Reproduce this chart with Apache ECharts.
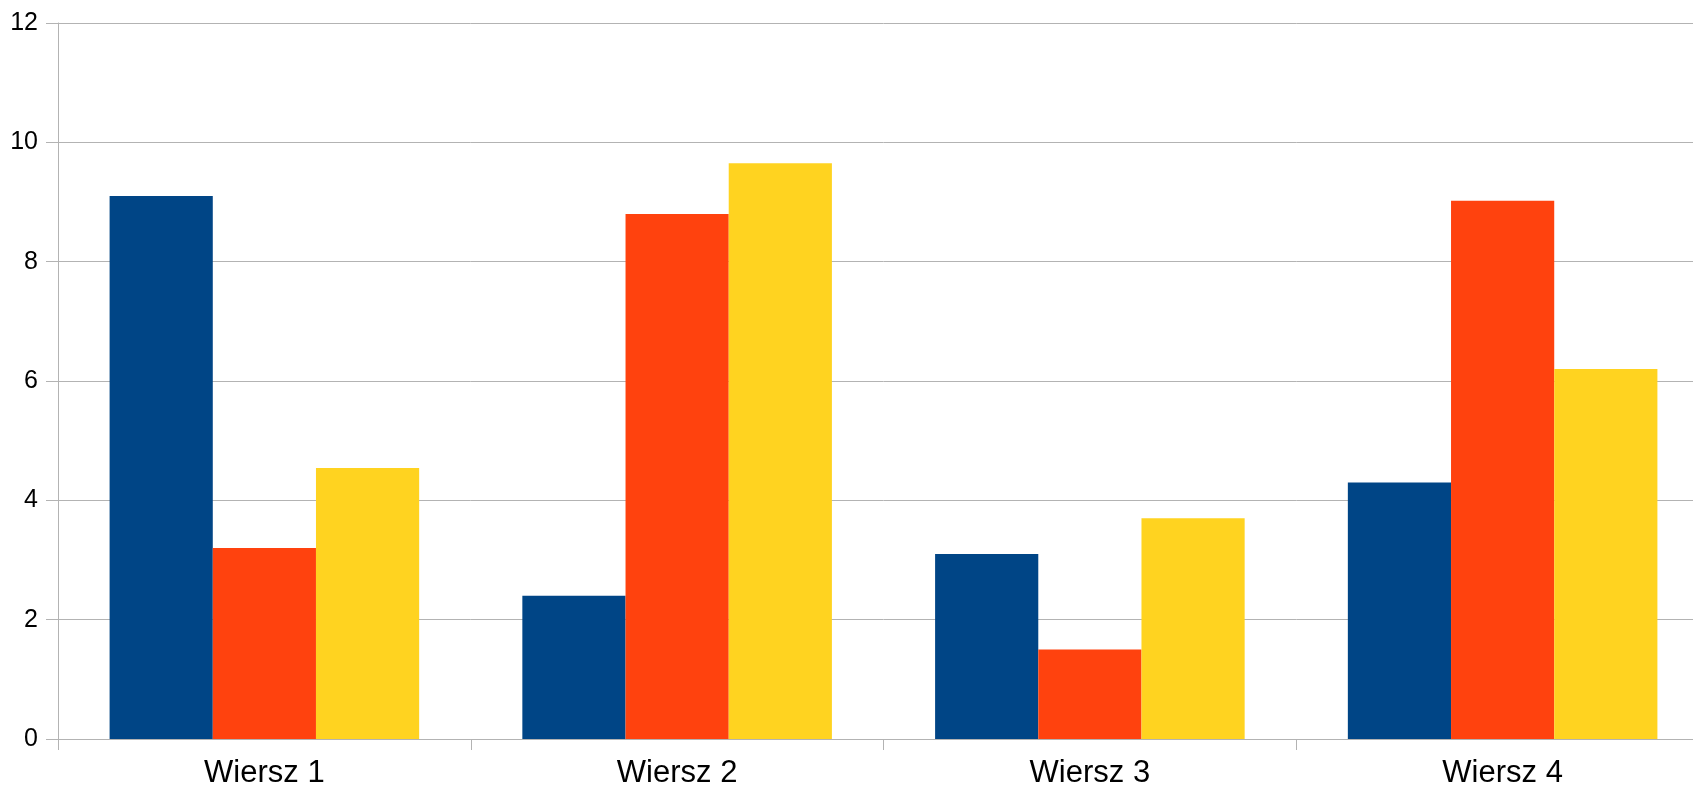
<!DOCTYPE html>
<html>
<head>
<meta charset="utf-8">
<script src="https://cdn.jsdelivr.net/npm/echarts@6/dist/echarts.min.js"></script>
<style>
html,body{margin:0;padding:0;background:#fff;overflow:hidden;width:1693px;height:792px;}
#chart{width:1710px;height:792px;}
</style>
</head>
<body>
<div id="chart"></div>
<script>
var categories = ['Wiersz 1', 'Wiersz 2', 'Wiersz 3', 'Wiersz 4'];
var column1 = [9.1, 2.4, 3.1, 4.3];
var column2 = [3.2, 8.8, 1.5, 9.02];
var column3 = [4.54, 9.65, 3.7, 6.2];
var seriesNames = ['Kolumna 1', 'Kolumna 2', 'Kolumna 3'];
var yTicks = [0, 2, 4, 6, 8, 10, 12];

var chart = echarts.init(document.getElementById('chart'), null, {renderer: 'canvas'});
var font = 'Liberation Sans, Arial, sans-serif';
chart.setOption({
  animation: false,
  grid: {left: 58, right: 1, top: 23, bottom: 53, containLabel: false},
  xAxis: {
    type: 'category',
    data: categories,
    boundaryGap: true,
    axisLine: {show: true, lineStyle: {color: '#b3b3b3', width: 1}},
    axisTick: {show: true, length: 11, lineStyle: {color: '#b3b3b3', width: 1}},
    axisLabel: {color: '#000', fontFamily: font, fontSize: 31, margin: 19}
  },
  yAxis: {
    type: 'value',
    min: yTicks[0],
    max: yTicks[yTicks.length - 1],
    interval: 2,
    axisLine: {show: true, lineStyle: {color: '#b3b3b3', width: 1}},
    axisTick: {show: true, length: 12, lineStyle: {color: '#b3b3b3', width: 1}},
    axisLabel: {color: '#000', fontFamily: font, fontSize: 25, margin: 20},
    splitLine: {show: true, lineStyle: {color: '#b3b3b3', width: 1}}
  },
  series: [
    {name: seriesNames[0], type: 'bar', data: column1, barGap: '0%', barCategoryGap: '25%', itemStyle: {color: '#004586'}},
    {name: seriesNames[1], type: 'bar', data: column2, barGap: '0%', barCategoryGap: '25%', itemStyle: {color: '#ff420e'}},
    {name: seriesNames[2], type: 'bar', data: column3, barGap: '0%', barCategoryGap: '25%', itemStyle: {color: '#ffd320'}}
  ]
});
</script>
</body>
</html>
